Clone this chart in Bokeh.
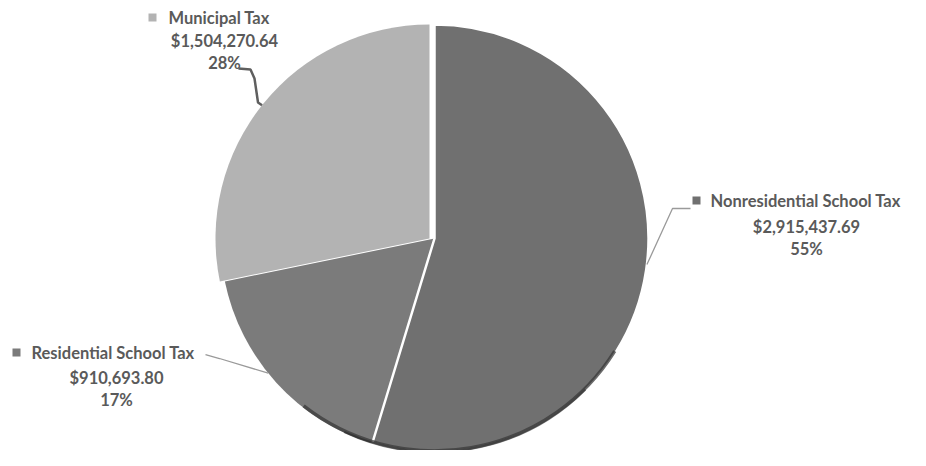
import math
from bokeh.plotting import figure
from bokeh.models import Range1d
from bokeh.embed import file_html
from bokeh.resources import INLINE
from bokeh.core.properties import value

# ---- data ----
categories = ["Nonresidential School Tax", "Residential School Tax", "Municipal Tax"]
amounts = [2915437.69, 910693.80, 1504270.64]
colors = ["#707070", "#7b7b7b", "#b3b3b3"]

W, H = 910, 450
p = figure(width=W, height=H, output_backend="svg", toolbar_location=None,
           x_range=Range1d(0, W), y_range=Range1d(0, H), min_border=0)
p.axis.visible = False
p.grid.visible = False
p.outline_line_color = None
p.background_fill_color = "white"
p.border_fill_color = "white"

def X(xr):
    return xr

def Y(yr):
    return H - yr

cx, cy, r = X(434), Y(238), 214
explode_dx = [0, 0, -5]

total = sum(amounts)
fracs = [a / total for a in amounts]
starts, ends = [], []
ang = math.pi / 2
for f in fracs:
    starts.append(ang)
    ang -= 2 * math.pi * f
    ends.append(ang)

# draw residential, municipal, then nonresidential (white separator on top)
for i in [1, 2, 0]:
    p.wedge(x=cx + explode_dx[i], y=cy, radius=r, start_angle=starts[i], end_angle=ends[i],
            direction="clock", fill_color=colors[i],
            line_color="white" if i == 0 else None, line_width=2.5)

# subtle bottom shadow
p.arc(x=cx, y=cy, radius=r - 1.5, start_angle=math.radians(-32), end_angle=math.radians(-128),
      direction="clock", line_color="#3a3a3a", line_width=3.5, line_alpha=0.75)
p.arc(x=cx, y=cy, radius=r - 0.5, start_angle=math.radians(-45), end_angle=math.radians(-115),
      direction="clock", line_color="#2a2a2a", line_width=2, line_alpha=0.6)

text_color = "#5a5a5a"
font = value("Lato")
fs = "16.5px"

def edge(i, deg):
    return (cx + explode_dx[i] + r * math.cos(math.radians(deg)),
            cy + r * math.sin(math.radians(deg)))

# label layout (pixel coords): marker, title start, value/pct center, line ys
layout = [
    dict(mk=(696, 200), tx=710, cxv=806, ys=(200, 226, 248)),
    dict(mk=(16, 352), tx=31, cxv=116, ys=(352, 377, 399)),
    dict(mk=(152, 17), tx=168, cxv=224, ys=(17, 40, 62)),
]

for i, L in enumerate(layout):
    pct = f"{round(fracs[i] * 100)}%"
    val = f"${amounts[i]:,.2f}"
    p.scatter(x=[X(L["mk"][0])], y=[Y(L["mk"][1])], marker="square", size=8,
              fill_color=colors[i], line_color=None)
    p.text(x=[X(L["tx"])], y=[Y(L["ys"][0])], text=[categories[i]], text_font=font,
           text_font_size=fs, text_font_style="bold", text_color=text_color,
           text_align="left", text_baseline="middle")
    p.text(x=[X(L["cxv"])] * 2, y=[Y(L["ys"][1]), Y(L["ys"][2])], text=[val, pct],
           text_font=font, text_font_size=fs, text_font_style="bold", text_color=text_color,
           text_align="center", text_baseline="middle")

# leader lines
ex, ey = edge(0, -7)
p.line(x=[X(690), X(672), ex], y=[Y(208), Y(208), ey], line_color="#9a9a9a", line_width=1.3)
ex, ey = edge(1, -141)
p.line(x=[X(205), X(219), ex], y=[Y(354), Y(358), ey], line_color="#9a9a9a", line_width=1.3)
ex, ey = edge(2, 141.5)
p.line(x=[X(238), X(250), X(254), ex - 4, ex], y=[Y(68), Y(69), Y(78), Y(102), ey],
       line_color="#5f5f5f", line_width=2.5)

open("out.html", "w").write(file_html(p, INLINE))
